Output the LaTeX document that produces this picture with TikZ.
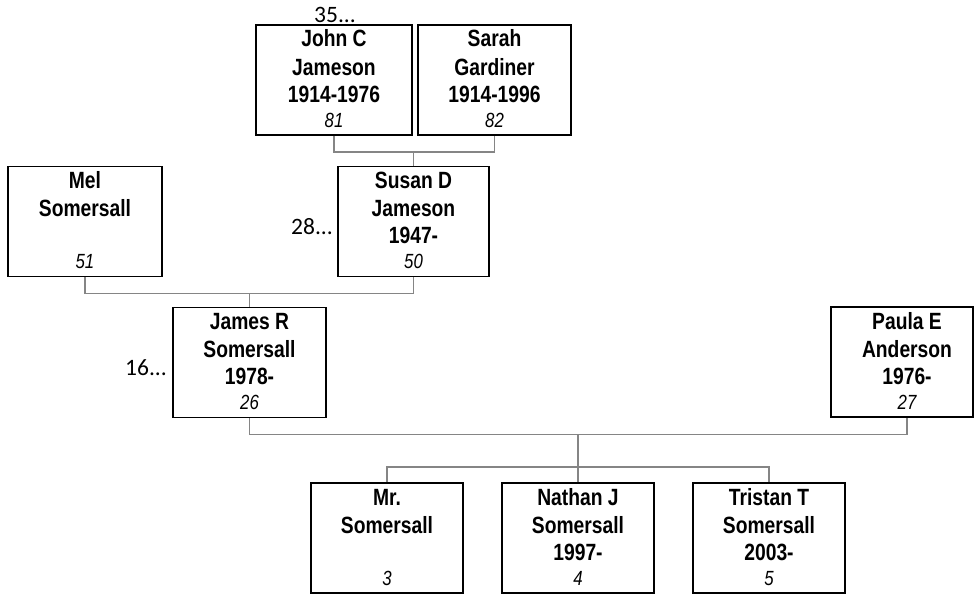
\documentclass[tikz,border=0pt]{standalone}
\usepackage{fontspec}
\setmainfont{Liberation Sans}
\newfontfamily\boxfont[FakeStretch=0.82]{Liberation Sans}
\newfontfamily\sidefont{Carlito}
\definecolor{conngray}{HTML}{858585}
\tikzset{
  pbox/.style={draw=black, line width=1.9pt, minimum height=110pt, inner sep=0pt, fill=none},
  ptext/.style={font=\boxfont\bfseries\fontsize{23.5}{27}\selectfont, inner sep=0pt, anchor=base},
  pnum/.style={font=\boxfont\itshape\fontsize{20.5}{22}\selectfont, inner sep=0pt, anchor=base},
  side/.style={font=\sidefont\fontsize{23.5}{27}\selectfont, inner sep=0pt},
  conn/.style={draw=conngray, line width=1.6pt}
}
% #1 name, #2 box x, #3 box y, #4 width, #5 text x, #6 #7 #8 lines, #9 number
\newcommand\personbox[9]{%
  \node[pbox, minimum width=#4] (#1) at (#2,#3) {};
  \node[ptext] (#1-a) at (#5,#3-33) {#6};
  \node[ptext] (#1-b) at (#5,#3-5) {#7};
  \if\relax\detokenize{#8}\relax\else
  \node[ptext] (#1-c) at (#5,#3+22) {#8};
  \fi
  \node[pnum] (#1-n) at (#5,#3+47) {#9};
}
\begin{document}
\begin{tikzpicture}[x=1pt, y=-1pt]
\useasboundingbox (0,0) rectangle (974,594);
% boxes
\personbox{john}{334}{80}{156}{334}{John C}{Jameson}{1914-1976}{81}
\personbox{sarah}{494.5}{80}{153}{494.5}{Sarah}{Gardiner}{1914-1996}{82}
\personbox{susan}{413.5}{221.5}{151}{413.5}{Susan D}{Jameson}{1947-}{50}
\personbox{mel}{85}{221.5}{154}{85}{Mel}{Somersall}{}{51}
\personbox{james}{249.5}{362.5}{153}{249.5}{James R}{Somersall}{1978-}{26}
\personbox{paula}{902}{362}{142}{907}{Paula E}{Anderson}{1976-}{27}
\personbox{mr}{387}{538}{152}{387}{Mr.}{Somersall}{}{3}
\personbox{nathan}{578}{538}{152}{578}{Nathan J}{Somersall}{1997-}{4}
\personbox{tristan}{769}{538}{152}{769}{Tristan T}{Somersall}{2003-}{5}
% side labels
\node[side, anchor=base] (l35) at (335,23) {35...};
\node[side, anchor=base east] (l28) at (333,234) {28...};
\node[side, anchor=base east] (l16) at (167,375) {16...};
% connectors
\draw[conn] (john.south) -- ++(0,16) coordinate (js) -| (sarah.south);
\draw[conn] (susan.north) -- (susan.north |- js);
\draw[conn] (mel.south) -- ++(0,16) coordinate (ms) -| (susan.south);
\draw[conn] (james.north) -- (james.north |- ms);
\draw[conn] (james.south) -- ++(0,16) coordinate (jp) -| ([xshift=5pt]paula.south);
\draw[conn] (nathan.north) -- (nathan.north |- jp);
\draw[conn] (mr.north) -- ++(0,-15) -| (tristan.north);
\end{tikzpicture}
\end{document}
